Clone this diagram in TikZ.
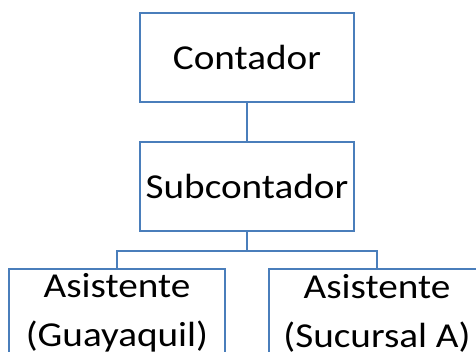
\documentclass[tikz,border=0pt]{standalone}
\usepackage{fontspec}
\setmainfont{Carlito}[FakeStretch=1.12]
\usetikzlibrary{positioning}
\definecolor{boxblue}{HTML}{4A7EBB}

\begin{document}
\begin{tikzpicture}[x=1pt,y=1pt,
    puesto/.style={draw=boxblue,line width=2pt,minimum width=214pt,minimum height=89pt,
      inner sep=0pt,align=center,font=\fontsize{35}{49}\selectfont},
    linea/.style={draw=boxblue,line width=2pt}]
    \useasboundingbox (0,0) rectangle (476,-351);
    %\draw[very thin,color=gray] (0,0) grid[step=20] (476,-351);
    \node[puesto] (con) at (247,-57.5) {Contador};
    \node[puesto,below=38pt of con] (sub) {Subcontador};
    % asistentes (cut at the bottom)
    \node[puesto,minimum width=216pt,minimum height=88pt,anchor=north] (asg) at (117,-268) {Asistente\\(Guayaquil)};
    \node[puesto,minimum width=216pt,minimum height=88pt,anchor=north] (asa) at (377,-268) {Asistente\\(Sucursal A)};
    \coordinate[below=19pt of sub.south] (bus);
    \draw[linea] (con.south) -- (sub.north);
    \draw[linea] (sub.south) -- (bus) -| (asg.north);
    \draw[linea] (bus) -| (asa.north);
  \end{tikzpicture}
\end{document}
